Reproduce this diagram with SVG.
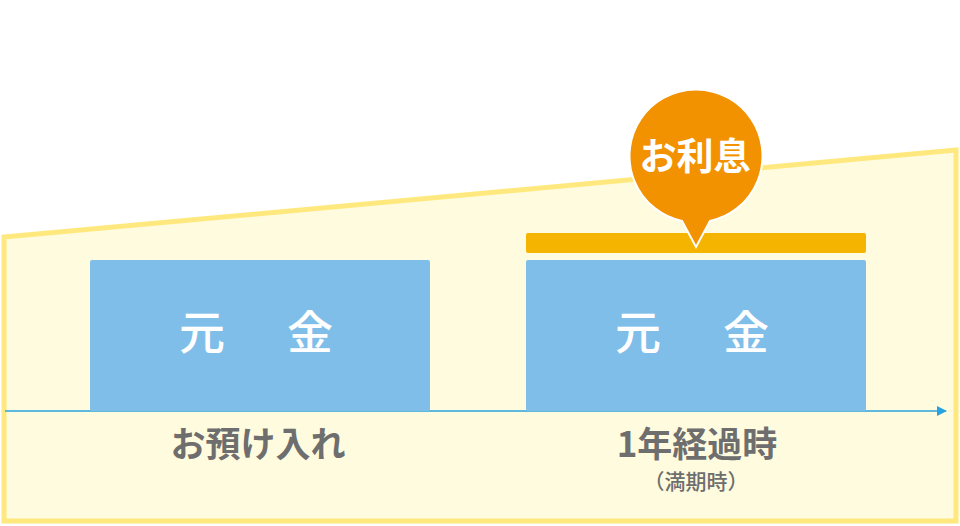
<svg xmlns="http://www.w3.org/2000/svg" width="960" height="526" viewBox="0 0 960 526">
<defs>
<style>
.box{fill:#80BEEA}
.gen{font-family:"Noto Sans CJK JP","Noto Sans",sans-serif;font-size:46px;font-weight:500;fill:#FFFFFF;text-anchor:middle}
.lbl{font-family:"Noto Sans CJK JP","Noto Sans",sans-serif;font-size:35px;font-weight:700;fill:#6E6E6E;text-anchor:middle}
.sub{font-family:"Noto Sans CJK JP","Noto Sans",sans-serif;font-size:21px;font-weight:500;fill:#6E6E6E;text-anchor:middle}
.bub{font-family:"Noto Sans CJK JP","Noto Sans",sans-serif;font-size:37px;font-weight:700;fill:#FFFFFF;text-anchor:middle}
</style>
<marker id="arr" markerWidth="10" markerHeight="10" refX="9" refY="5" orient="auto" markerUnits="userSpaceOnUse">
<path d="M0,0 L10,5 L0,10 Z" fill="#29A3DF"/>
</marker>
</defs>
<rect width="960" height="526" fill="#FFFFFF"/>
<polygon points="4,237 956,150 956,521 4,521" fill="#FFFBDE" stroke="#FFE97F" stroke-width="5" stroke-linejoin="miter"/>
<g id="connectors">
<line x1="5" y1="411" x2="946" y2="411" stroke="#29A3DF" stroke-width="1.5" marker-end="url(#arr)"/>
</g>
<g id="principal-left">
<rect class="box" x="90" y="260" width="340" height="151" rx="2"/>
<text class="gen" x="202" y="349">元</text>
<text class="gen" x="310" y="349">金</text>
</g>
<g id="principal-right">
<rect class="box" x="526" y="260" width="340" height="151" rx="2"/>
<text class="gen" x="638" y="349">元</text>
<text class="gen" x="746" y="349">金</text>
</g>
<g id="interest-bar">
<rect x="526" y="233" width="340" height="20" rx="2" fill="#F5B400"/>
</g>
<g id="interest-bubble">
<path d="M682,221 A66.5,66.5 0 1 1 710,221 L696,247 Z" fill="#F39200" stroke="#FFFFFF" stroke-width="2" stroke-linejoin="miter"/>
<text class="bub" x="695" y="170">お利息</text>
</g>
<g id="label-deposit">
<text class="lbl" x="258" y="457">お預け入れ</text>
</g>
<g id="label-maturity">
<text class="lbl" x="697" y="457">1年経過時</text>
<text class="sub" x="696" y="489">（満期時）</text>
</g>
</svg>
